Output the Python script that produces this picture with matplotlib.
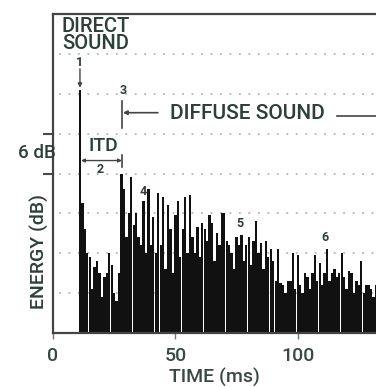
import matplotlib
matplotlib.use("Agg")
import matplotlib.pyplot as plt
import numpy as np

# ---- data ----
start_ms = 11
# energy per 1 ms bin, in grid units (1 unit = 6 dB)
energy_units = [
    6.1, 3.25, 2.6, 2.0, 1.9, 1.1, 1.65, 1.8, 1.5, 0.9,          # 11-20
    1.4, 1.5, 2.0, 1.7, 1.0, 0.8, 1.5, 4.0, 3.6, 2.4,            # 21-30
    3.0, 3.9, 2.7, 3.0, 2.4, 2.2, 3.3, 2.0, 3.6, 2.2,            # 31-40
    2.9, 2.0, 3.5, 2.2, 3.4, 1.6, 3.2, 2.6, 1.5, 2.95,           # 41-50
    3.3, 1.9, 2.6, 3.4, 2.0, 3.45, 2.4, 2.0, 2.65, 1.9,          # 51-60
    2.75, 2.6, 2.3, 2.95, 2.75, 1.8, 2.5, 2.2, 3.0, 3.0,         # 61-70
    2.3, 2.2, 2.0, 1.6, 2.4, 2.2, 2.45, 1.8, 2.2, 2.4,           # 71-80
    1.7, 2.3, 2.8, 2.0, 2.25, 1.6, 2.3, 1.9, 2.1, 1.8,           # 81-90
    1.3, 2.1, 1.25, 1.2, 1.0, 1.3, 1.3, 2.0, 1.1, 1.95,          # 91-100
    1.2, 1.0, 1.5, 1.4, 1.1, 1.5, 1.95, 1.3, 1.75, 1.2,          # 101-110
    1.5, 2.1, 1.3, 1.5, 1.6, 1.4, 1.5, 2.0, 1.4, 1.1,            # 111-120
    1.55, 1.5, 1.0, 1.3, 1.2, 1.8, 1.0, 1.2, 1.2, 1.1,           # 121-130
    0.9, 1.2,                                                    # 131-132
]
db_per_unit = 6
grid_levels_db = [6, 12, 18, 24, 30, 36, 42]
x_ticks = [0, 50, 100]
x_ticklabels = ["0", "50", "100"]
scale_ticks_db = [24, 30]

times = np.arange(start_ms, start_ms + len(energy_units))
energy_db = np.array(energy_units) * db_per_unit

# ---- figure ----
W, H = 376, 387
fig = plt.figure(figsize=(W / 100, H / 100), dpi=100)
fig.patch.set_facecolor("white")
ax = fig.add_axes([53 / W, 1 - 333 / H, (376 - 53) / W, (333 - 14) / H])
ax.set_xlim(0, 132)
ax.set_ylim(0, 48)

txt = "#2c3f38"
font = ["Roboto", "Liberation Sans", "DejaVu Sans"]
fw = "medium"

for g in grid_levels_db:
    ax.axhline(g, xmin=0.02, color="#a8a8a8", lw=1.1, ls=(0, (1.2, 5)), zorder=1)

ax.bar(times, energy_db, width=0.95, color="#111111", linewidth=0, zorder=2)

for s in ["top", "left", "bottom"]:
    ax.spines[s].set_color("#444444")
    ax.spines[s].set_linewidth(1.6)
ax.spines["right"].set_visible(False)

ax.set_xticks(x_ticks)
ax.set_xticklabels(x_ticklabels, family=font, fontsize=14, color="#3a4843",
                   fontweight=fw)
ax.tick_params(axis="x", direction="out", length=4, width=1, color="#777", pad=6)
ax.set_yticks(scale_ticks_db)
ax.set_yticklabels([])
ax.tick_params(axis="y", direction="out", length=7, width=1.5, color="#4a4a4a")

ax.set_xlabel("TIME (ms)", family=font, fontsize=14, color="#3a4843",
              fontweight=fw, labelpad=2)

# ---- annotations ----
def d(x, y):
    """pixel position in the picture -> data coords"""
    return ((x - 53) / 2.45, (333 - y) * 0.15)

ax.text(*d(62, 16), "DIRECT\nSOUND", family=font, fontsize=14.5, color=txt,
        fontweight=fw, va="top", ha="left", linespacing=0.88, clip_on=False)
ax.text(*d(80, 62), "1", family=font, fontsize=9, fontweight="bold",
        color=txt, ha="center", va="center")
ax.annotate("", xy=d(80, 87), xytext=d(80, 68),
            arrowprops=dict(arrowstyle="-|>", color="#444", lw=1,
                            mutation_scale=6, shrinkA=0, shrinkB=0))
ax.text(*d(123, 90), "3", family=font, fontsize=9, fontweight="bold",
        color=txt, ha="center", va="center")

# diffuse sound marker
ax.plot(*zip(d(122, 100), d(122, 127)), color="#444", lw=1.2, zorder=3)
ax.annotate("", xy=d(123, 112), xytext=d(158, 112),
            arrowprops=dict(arrowstyle="-|>", color="#444", lw=1.2,
                            mutation_scale=6, shrinkA=0, shrinkB=0))
ax.text(*d(170, 113), "DIFFUSE SOUND", family=font, fontsize=15,
        fontweight=fw, color=txt, ha="left", va="center")
ax.plot(*zip(d(337, 115), d(376, 115)), color="#444", lw=1.2, zorder=3,
        clip_on=False)

# ITD bracket
ax.text(*d(103, 145), "ITD", family=font, fontsize=14, color=txt,
        fontweight=fw, ha="center", va="center")
ax.annotate("", xy=d(81, 160), xytext=d(122, 160),
            arrowprops=dict(arrowstyle="<|-|>", color="#444", lw=1,
                            mutation_scale=5, shrinkA=0, shrinkB=0))
ax.plot(*zip(d(122, 154), d(122, 166)), color="#444", lw=1.2, zorder=3)
ax.text(*d(100, 169), "2", family=font, fontsize=9, fontweight="bold",
        color=txt, ha="center", va="center")

ax.text(*d(143, 191), "4", family=font, fontsize=9, fontweight="bold",
        color=txt, ha="center", va="center")
ax.text(*d(240, 223), "5", family=font, fontsize=9, fontweight="bold",
        color=txt, ha="center", va="center")
ax.text(*d(325, 237), "6", family=font, fontsize=9, fontweight="bold",
        color=txt, ha="center", va="center")

ax.text(*d(37, 152), "6 dB", family=font, fontsize=13.5, color=txt,
        fontweight=fw, ha="center", va="center", clip_on=False)
ax.text(*d(39, 251), "ENERGY (dB)", family=font, fontsize=14, color=txt,
        fontweight=fw, ha="center", va="center", rotation=90, clip_on=False)

fig.savefig("out.png", dpi=100, facecolor="white")
